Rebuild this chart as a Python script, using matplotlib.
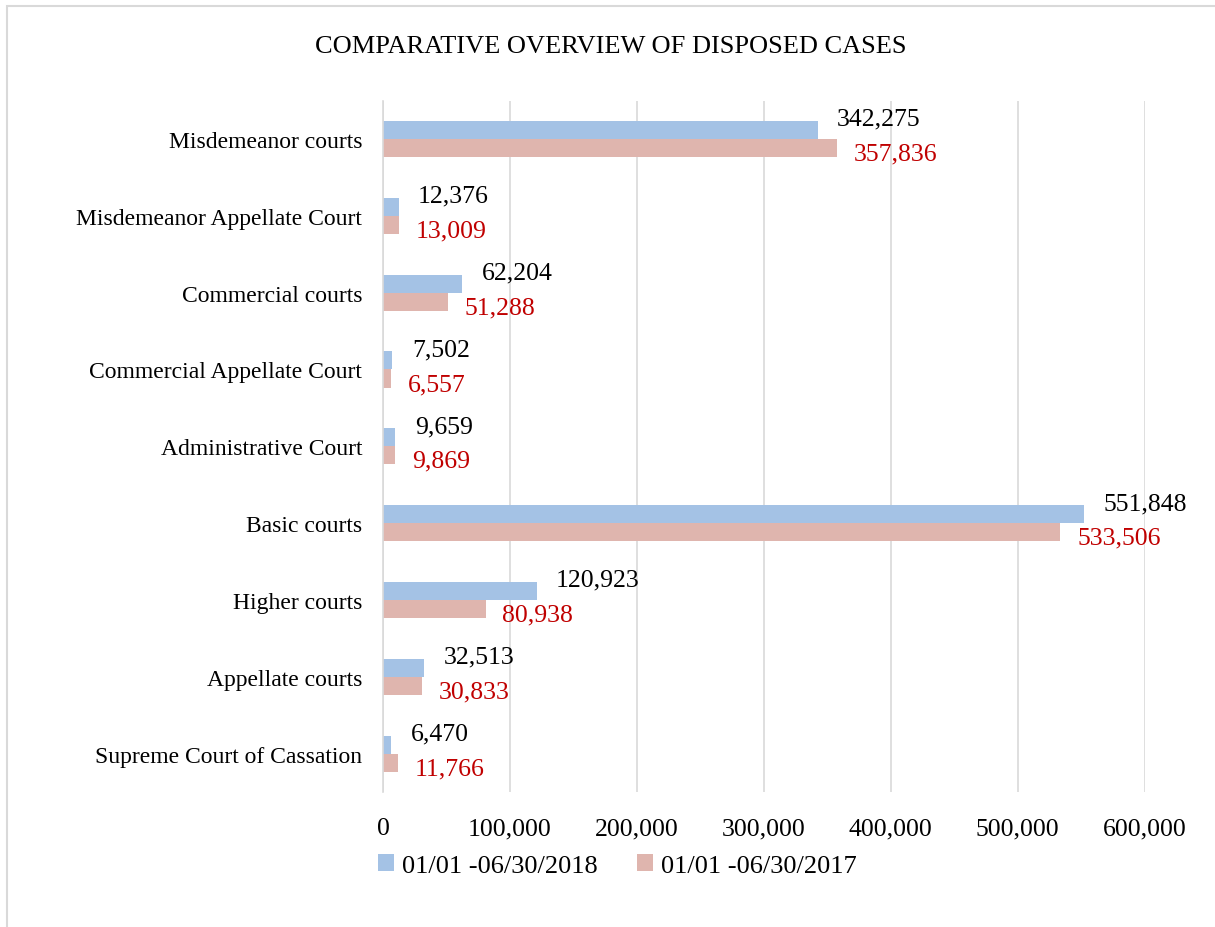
import numpy as np
import matplotlib.pyplot as plt
from matplotlib.patches import Rectangle
from matplotlib.ticker import FuncFormatter

plt.rcParams['font.family'] = ['Liberation Serif', 'DejaVu Serif']

# Data (top to bottom as shown in the chart)
courts = ['Misdemeanor courts', 'Misdemeanor Appellate Court', 'Commercial courts',
          'Commercial Appellate Court', 'Administrative Court', 'Basic courts',
          'Higher courts', 'Appellate courts', 'Supreme Court of Cassation']
cases_2018 = [342275, 12376, 62204, 7502, 9659, 551848, 120923, 32513, 6470]
cases_2017 = [357836, 13009, 51288, 6557, 9869, 533506, 80938, 30833, 11766]
label_2018 = '01/01 -06/30/2018'
label_2017 = '01/01 -06/30/2017'

blue = '#A4C2E5'
pink = '#DFB5AE'
red = '#C00000'
grid_grey = '#D9D9D9'

fig = plt.figure(figsize=(12.15, 9.28), dpi=100)
ax = fig.add_axes([0.3152, 0.1455, 0.627, 0.745])

y = np.arange(len(courts))
h = 0.235
b1 = ax.barh(y - h / 2, cases_2018, height=h, color=blue, label=label_2018, zorder=2)
b2 = ax.barh(y + h / 2, cases_2017, height=h, color=pink, label=label_2017, zorder=2)

# value labels
for rect, v in zip(b1, cases_2018):
    ax.annotate(f'{v:,}', (rect.get_width(), rect.get_y() + rect.get_height() / 2),
                xytext=(14, 8), textcoords='offset points', ha='left', va='center',
                fontsize=18.5, color='black')
for rect, v in zip(b2, cases_2017):
    ax.annotate(f'{v:,}', (rect.get_width(), rect.get_y() + rect.get_height() / 2),
                xytext=(12, -4), textcoords='offset points', ha='left', va='center',
                fontsize=18.5, color=red)

ax.set_xlim(0, 600000)
ax.set_ylim(len(courts) - 0.5, -0.5)
ax.set_xticks(np.arange(0, 600001, 100000))
ax.xaxis.set_major_formatter(FuncFormatter(lambda v, p: f'{int(v):,}'))
ax.set_yticks(y)
ax.set_yticklabels(courts, fontsize=17)
ax.tick_params(axis='x', labelsize=18.5, length=0, pad=18)
ax.tick_params(axis='y', length=0, pad=15)
ax.grid(axis='x', color=grid_grey, linewidth=1.2, zorder=0)
for s in ['top', 'right', 'bottom']:
    ax.spines[s].set_visible(False)
ax.spines['left'].set_color(grid_grey)
ax.spines['left'].set_linewidth(1.2)

fig.text(0.503, 0.949, 'COMPARATIVE OVERVIEW OF DISPOSED CASES', ha='center', va='center',
         fontsize=19)

fig.legend(loc='center', bbox_to_anchor=(0.508, 0.066), ncol=2, frameon=False,
           fontsize=19, handlelength=0.6, handleheight=0.6, handletextpad=0.3,
           columnspacing=1.5)

# chart border
fig.patches.append(Rectangle((7 / 1215, -0.1), 1.2, 1.1 - 7 / 928, transform=fig.transFigure,
                             fill=False, edgecolor=grid_grey, linewidth=1.5))

fig.savefig('out.png', dpi=100)
